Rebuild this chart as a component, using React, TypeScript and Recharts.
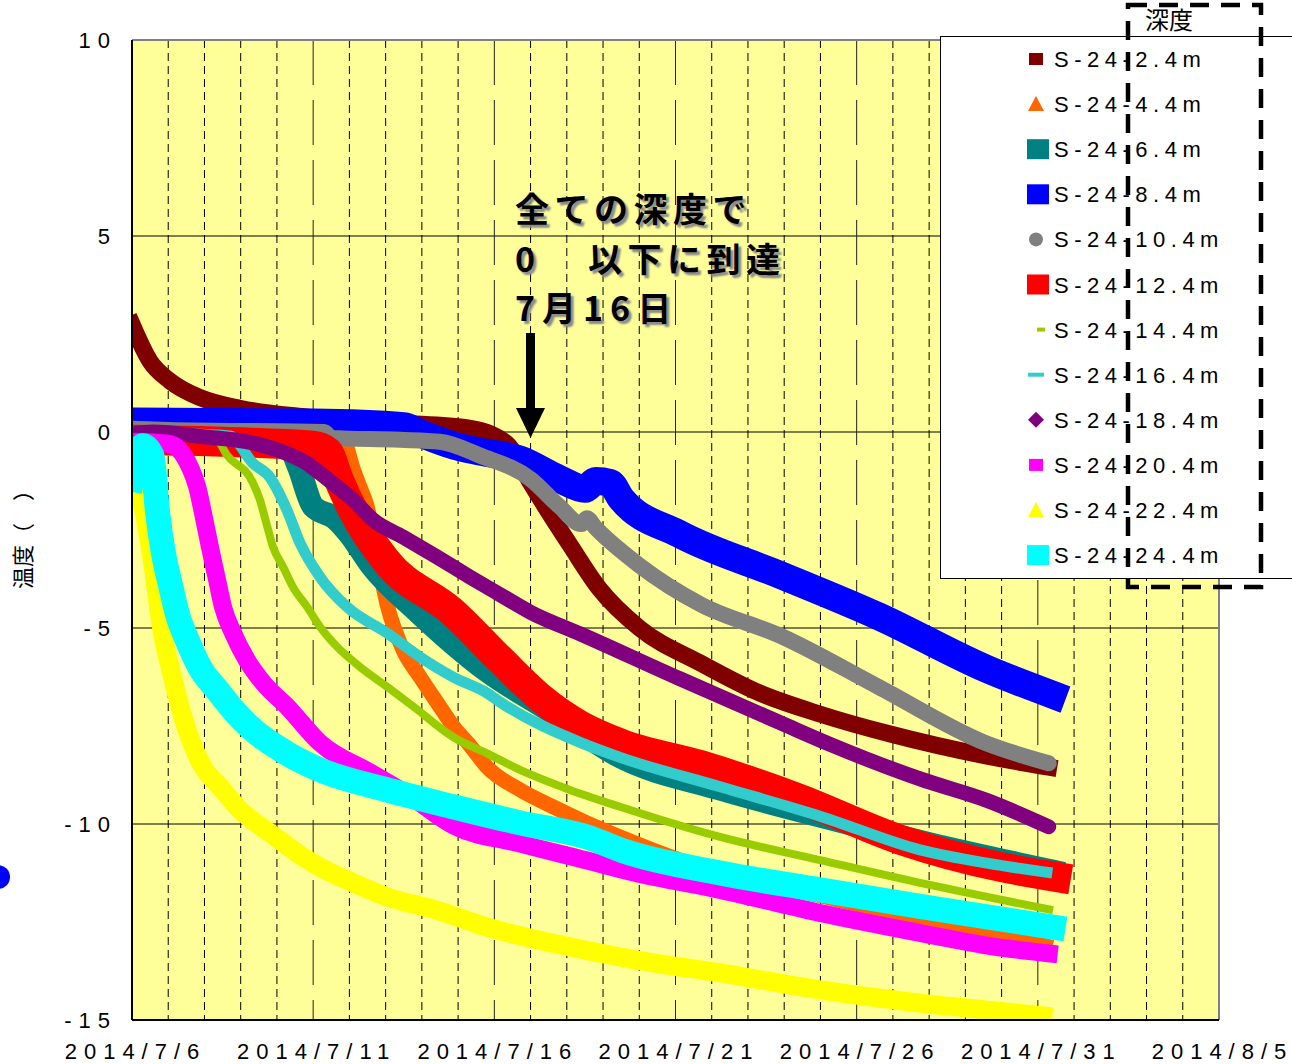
import React from 'react';
import { LineChart, Line, XAxis, YAxis, CartesianGrid, Legend } from 'recharts';

// [day since 2014/7/6, temperature]
const depth2_4 = [
  [0, 2.75], [0.5, 1.8], [1.05, 1.3], [1.9, 0.87], [3.0, 0.6], [4.6, 0.4], [7.4, 0.23], [9.3, 0.1],
  [9.9, -0.05], [10.4, -0.35], [11.0, -1.3], [11.3, -1.75], [12.1, -2.9], [12.9, -4.0], [14.0, -5.0],
  [15.7, -5.9], [17.3, -6.65], [19.0, -7.2], [20.9, -7.7], [23.6, -8.27], [25.3, -8.55],
];
const depth4_4 = [
  [0, 0.1], [5.7, 0.0], [5.9, -0.3], [6.09, -0.9], [6.29, -1.4], [6.49, -1.9], [6.75, -3.1], [7.04, -4.4],
  [7.48, -5.56], [7.95, -6.25], [8.42, -6.9], [8.86, -7.5], [9.33, -8.0], [9.8, -8.55], [10.71, -9.13],
  [11.62, -9.56], [12.55, -9.97], [13.47, -10.33], [15.7, -11.1], [18.4, -11.7], [21.2, -12.3],
  [23.6, -12.75], [25.4, -13.15],
];
const depth6_4 = [
  [0, -0.1], [4.2, -0.15], [4.6, -0.9], [5.0, -1.9], [5.6, -2.2], [6.0, -2.6], [6.6, -3.4], [7.9, -4.6],
  [9.8, -6.1], [11.5, -7.1], [13.5, -8.3], [16.2, -9.1], [19.0, -9.8], [22.0, -10.5], [25.4, -11.2],
];
const depth8_4 = [
  [0, 0.27], [5, 0.24], [7.5, 0.15], [8.0, -0.05], [8.9, -0.35], [9.6, -0.5], [10.7, -0.7], [11.8, -1.2],
  [12.5, -1.45], [12.8, -1.25], [13.2, -1.3], [13.5, -1.7], [15.1, -2.6], [17.9, -3.65], [20.6, -4.7],
  [23.6, -6.05], [25.4, -6.7],
];
const depth10_4 = [
  [0, 0.08], [1, 0.05], [5.3, 0.0], [5.5, -0.15], [7.4, -0.2], [8.5, -0.25], [9.6, -0.6], [11.0, -1.2],
  [11.8, -1.9], [12.4, -2.35], [12.55, -2.2], [12.8, -2.45], [14.0, -3.4], [15.7, -4.4], [17.9, -5.2],
  [20.6, -6.5], [23.6, -7.95], [25.3, -8.45],
];
const depth12_4 = [
  [0, -0.2], [5, -0.35], [5.4, -0.5], [5.7, -1.2], [6.1, -2.0], [7.0, -3.27], [8.86, -4.6], [10.16, -5.8],
  [11.3, -6.8], [12.4, -7.5], [13.5, -7.95], [15.7, -8.5], [18.4, -9.35], [21.2, -10.4], [24.0, -11.1],
  [25.5, -11.35],
];
const depth14_4 = [
  [0, -0.1], [2.3, -0.15], [2.62, -0.59], [3.34, -1.3], [3.53, -1.73], [3.73, -2.4], [3.89, -2.93],
  [4.17, -3.44], [4.44, -3.95], [4.83, -4.46], [5.19, -4.97], [5.66, -5.48], [6.29, -5.99], [7.04, -6.5],
  [7.76, -7.0], [8.86, -7.78], [9.8, -8.2], [10.71, -8.62], [12.09, -9.13], [13.47, -9.56], [16.23, -10.33],
  [18.99, -10.92], [21.75, -11.5], [23.6, -11.86], [25.42, -12.2],
];
const depth16_4 = [
  [0, 0], [2.7, -0.1], [3.34, -0.8], [3.8, -1.15], [4.28, -2.0], [4.64, -2.84], [5.19, -3.7], [5.93, -4.46],
  [7.04, -5.13], [7.95, -5.74], [8.86, -6.25], [9.8, -6.66], [10.16, -6.89], [12.4, -7.93], [13.47, -8.3],
  [16.23, -9.05], [18.99, -9.8], [21.75, -10.66], [23.6, -11.0], [25.4, -11.25],
];
const depth18_4 = [
  [0, -0.05], [0.58, 0.0], [1.96, -0.12], [3.34, -0.28], [4.28, -0.55], [4.83, -0.8], [5.19, -1.05],
  [5.66, -1.4], [6.1, -1.73], [6.65, -2.24], [7.48, -2.68], [8.42, -3.19], [9.33, -3.7], [10.16, -4.15],
  [11.0, -4.6], [12.37, -5.15], [15.13, -6.3], [17.9, -7.42], [19.3, -7.98], [21.75, -8.85], [23.6, -9.4],
  [25.3, -10.07],
];
const depth20_4 = [
  [0, -0.25], [1.0, -0.3], [1.3, -0.45], [1.6, -0.9], [1.8, -1.4], [1.96, -2.07], [2.15, -2.93], [2.35, -3.78],
  [2.51, -4.46], [2.79, -5.13], [3.17, -5.82], [3.62, -6.4], [4.28, -7.0], [5.19, -7.93], [6.6, -8.7],
  [7.7, -9.3], [8.86, -10.03], [10.71, -10.5], [12.5, -10.92], [13.9, -11.25], [16.23, -11.68],
  [18.99, -12.27], [21.75, -12.78], [23.6, -13.1], [25.3, -13.3],
];
const depth22_4 = [
  [0, -1.0], [0.3, -1.9], [0.58, -3.4], [0.8, -4.9], [1.13, -6.3], [1.52, -7.6], [1.96, -8.55], [2.43, -9.05],
  [2.98, -9.64], [3.81, -10.23], [4.72, -10.84], [5.19, -11.1], [6.1, -11.5], [7.04, -11.86], [8.42, -12.2],
  [9.8, -12.63], [11.62, -13.04], [13.93, -13.47], [16.23, -13.8], [18.99, -14.23], [21.75, -14.57],
  [23.6, -14.75], [25.4, -14.92],
];
const depth24_4 = [
  [0, -1.2], [0.3, -0.35], [0.55, -0.6], [0.7, -2.0], [0.85, -3.0], [1.05, -3.86], [1.27, -4.7], [1.52, -5.3],
  [1.87, -6.0], [2.35, -6.58], [2.9, -7.2], [3.34, -7.6], [4.28, -8.2], [5.19, -8.62], [7.04, -9.13],
  [8.86, -9.56], [10.71, -9.97], [12.55, -10.33], [13.6, -10.7], [16.23, -11.25], [18.99, -11.68],
  [21.75, -12.1], [23.6, -12.37], [25.42, -12.63],
];

const xTicks = [0, 5, 10, 15, 20, 25, 30];
const xTickLabels = ['2014/7/6', '2014/7/11', '2014/7/16', '2014/7/21', '2014/7/26', '2014/7/31', '2014/8/5'];
const yTicks = [10, 5, 0, -5, -10, -15];
const dayLines = [1, 2, 3, 4, 6, 7, 8, 9, 11, 12, 13, 14, 16, 17, 18, 19, 21, 22, 23, 24, 26, 27, 28, 29];
const fiveDayLines = [5, 10, 15, 20, 25];

const SERIES = [
  { name: 'S-24-2.4m', pts: depth2_4, color: '#800000', width: 17, cap: 'square', marker: 'sqS' },
  { name: 'S-24-4.4m', pts: depth4_4, color: '#FF6600', width: 15, cap: 'butt', marker: 'tri' },
  { name: 'S-24-6.4m', pts: depth6_4, color: '#008080', width: 23, cap: 'square', marker: 'sqL' },
  { name: 'S-24-8.4m', pts: depth8_4, color: '#0000FF', width: 28, cap: 'square', marker: 'sqL' },
  { name: 'S-24-10.4m', pts: depth10_4, color: '#808080', width: 16, cap: 'round', marker: 'circle' },
  { name: 'S-24-12.4m', pts: depth12_4, color: '#FF0000', width: 30, cap: 'square', marker: 'sqL' },
  { name: 'S-24-14.4m', pts: depth14_4, color: '#99CC00', width: 8, cap: 'butt', marker: 'dashS' },
  { name: 'S-24-16.4m', pts: depth16_4, color: '#33CCCC', width: 11, cap: 'butt', marker: 'dashL' },
  { name: 'S-24-18.4m', pts: depth18_4, color: '#800080', width: 15, cap: 'round', marker: 'diamond' },
  { name: 'S-24-20.4m', pts: depth20_4, color: '#FF00FF', width: 18, cap: 'square', marker: 'sqS' },
  { name: 'S-24-22.4m', pts: depth22_4, color: '#FFFF00', width: 19, cap: 'butt', marker: 'tri' },
  { name: 'S-24-24.4m', pts: depth24_4, color: '#00FFFF', width: 25, cap: 'square', marker: 'sqL' },
];

const LATIN = '"Liberation Sans", Arial, sans-serif';
const CJK = '"Noto Sans CJK JP", "Noto Sans", sans-serif';

const XTick = ({ x, y, payload }: any) => (
  <text x={x + 3.5} y={y + 39} textAnchor="middle" fontSize={22} letterSpacing={7} fontFamily={LATIN} fill="#000">
    {xTickLabels[xTicks.indexOf(payload.value)]}
  </text>
);

const YTick = ({ x, y, payload }: any) => (
  <text x={x - 15} y={y + 8} textAnchor="end" fontSize={22} letterSpacing={7} fontFamily={LATIN} fill="#000">
    {payload.value}
  </text>
);

const Marker = ({ kind, color }: { kind: string; color: string }) => {
  switch (kind) {
    case 'sqS':
      return <rect x={-7} y={-6} width={14} height={12} fill={color} />;
    case 'sqL':
      return <rect x={-9} y={-10} width={22} height={20} fill={color} />;
    case 'tri':
      return <polygon points="-8,7 8,7 0,-8" fill={color} />;
    case 'circle':
      return <circle r={7} fill={color} />;
    case 'dashS':
      return <rect x={1} y={-2} width={8} height={4} fill={color} />;
    case 'dashL':
      return <rect x={-8} y={-2} width={16} height={4} fill={color} />;
    case 'diamond':
      return <polygon points="0,-8 8,0 0,8 -8,0" fill={color} />;
    default:
      return null;
  }
};

const LegendBox = () => (
  <svg width={352} height={544} style={{ display: 'block' }}>
    <rect x={0.5} y={0.5} width={400} height={542} fill="#fff" stroke="#000" strokeWidth={1} />
    {SERIES.map((s, i) => (
      <g key={s.name} transform={`translate(0, ${23 + i * 45.1})`}>
        <g transform="translate(96, 0)">
          <Marker kind={s.marker} color={s.color} />
        </g>
        <text x={114} y={8} fontSize={22} letterSpacing={5.5} fontFamily={LATIN} fill="#000">
          {s.name}
        </text>
      </g>
    ))}
  </svg>
);

const noteStyle: React.CSSProperties = {
  position: 'absolute',
  left: 515,
  height: 44,
  zIndex: 6,
  fontFamily: CJK,
  fontWeight: 700,
  fontSize: 34,
  lineHeight: '44px',
  letterSpacing: 5.5,
  color: '#000',
  textShadow: '3px 3px 2px #8a8a8a',
  whiteSpace: 'pre',
};

export default function App() {
  return (
    <div style={{ position: 'absolute', left: 0, top: 0, width: 1292, height: 1064, overflow: 'hidden', background: '#fff' }}>
      <LineChart width={1292} height={1064} margin={{ top: 40, right: 73, bottom: 0, left: 0 }}>
        <CartesianGrid vertical={false} stroke="#000" strokeWidth={1} fill="#FFFF99" fillOpacity={1} />
        <CartesianGrid horizontal={false} verticalValues={dayLines} stroke="#000" strokeDasharray="8 5" />
        <CartesianGrid horizontal={false} verticalValues={fiveDayLines} stroke="#222" strokeDasharray="45 15" />
        <CartesianGrid horizontalValues={[10]} verticalValues={[30]} stroke="#808080" strokeWidth={2} />
        <XAxis
          dataKey="d"
          type="number"
          domain={[0, 30]}
          ticks={xTicks}
          allowDataOverflow
          height={44}
          tickSize={0}
          tickMargin={0}
          tickLine={false}
          axisLine={{ stroke: '#000', strokeWidth: 2 }}
          tick={(p: any) => <XTick {...p} />}
        />
        <YAxis
          type="number"
          domain={[-15, 10]}
          ticks={yTicks}
          allowDataOverflow
          width={132}
          tickSize={0}
          tickMargin={0}
          tickLine={false}
          axisLine={{ stroke: '#000', strokeWidth: 2 }}
          tick={(p: any) => <YTick {...p} />}
        />
        {SERIES.map((s) => (
          <Line
            key={s.name}
            name={s.name}
            data={s.pts.map(([d, t]) => ({ d, t }))}
            dataKey="t"
            type="monotone"
            stroke={s.color}
            strokeWidth={s.width}
            strokeLinecap={s.cap as any}
            strokeLinejoin="round"
            dot={false}
            activeDot={false}
            isAnimationActive={false}
          />
        ))}
        <Legend
          layout="horizontal"
          align="center"
          verticalAlign="middle"
          wrapperStyle={{ left: 940, top: 36, width: 352, height: 544 }}
          content={() => <LegendBox />}
        />
      </LineChart>

      <svg width={1292} height={1064} style={{ position: 'absolute', left: 0, top: 0, pointerEvents: 'none', zIndex: 5 }}>
        <rect x={1128} y={5} width={133} height={582} fill="none" stroke="#000" strokeWidth={4.5} strokeDasharray="19 12" />
        <text x={1145} y={29} fontSize={24} fontFamily={CJK} fill="#000">深度</text>
        <text transform="translate(31, 534) rotate(-90)" textAnchor="middle" fontSize={22} fontFamily={CJK} fill="#000">
          温度（　）
        </text>
        <circle cx={-2} cy={877} r={12} fill="#0000FF" />
        <rect x={526} y={333} width={9} height={80} fill="#000" />
        <polygon points="516,408 545,408 530.5,438" fill="#000" />
      </svg>

      <div style={{ ...noteStyle, top: 186 }}>全ての深度で</div>
      <div style={{ ...noteStyle, top: 235.5 }}>
        <span style={{ letterSpacing: 13.5 }}>0</span>
        {'　以下に到達'}
      </div>
      <div style={{ ...noteStyle, top: 285, letterSpacing: 7 }}>7月16日</div>
    </div>
  );
}
